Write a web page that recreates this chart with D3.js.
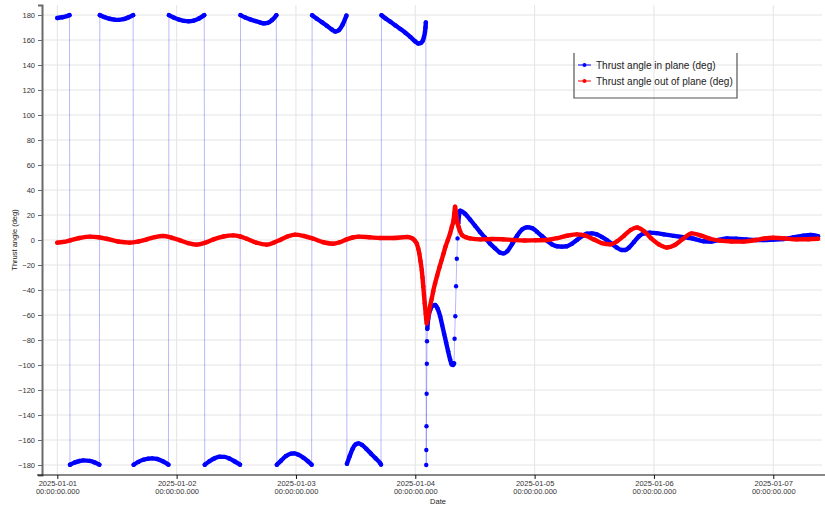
<!DOCTYPE html>
<html>
<head>
<meta charset="utf-8">
<script src="https://cdn.jsdelivr.net/npm/d3@7"></script>
<style>
  html, body { margin: 0; padding: 0; background: #fff; }
  svg { display: block; font-family: "Liberation Sans", Arial, sans-serif; }
  .grid line { stroke: #e4e4e4; stroke-width: 1; }
  .axis text { fill: #333; font-size: 7.5px; }
  .y-axis .domain { stroke: #6a6a6a; stroke-width: 2; }
  .y-axis .tick line { stroke: #6a6a6a; }
  .x-axis .domain { stroke: #111; stroke-width: 1.2; }
  .x-axis .tick line { stroke: #111; }
  .axis-title { fill: #222; font-size: 7.5px; }
  .legend text { fill: #222; font-size: 10px; }
</style>
</head>
<body>
<svg id="chart" width="825" height="505"></svg>
<script>
(function () {
  "use strict";

  // hours after 2025-01-01 00:00 UTC, angle in degrees
  const inPlane = [
    [0, 177.6], [1, 178.2], [2, 179.2], [2.45, 179.9],
    [2.55, -179.8], [3.5, -178], [4.5, -176.8], [5.2, -176.3], [6.5, -176.7], [7.5, -177.9], [8.45, -179.7],
    [8.55, 179.9], [9.5, 178.3], [10.5, 177], [11.5, 176.3], [12.3, 176.1], [13.3, 176.7], [14.3, 178.1], [15.25, 179.9],
    [15.35, -179.8], [16.3, -177.5], [17.3, -175.8], [18.3, -174.9], [19.1, -174.7], [20.1, -175.2], [21.2, -177], [22.35, -179.7],
    [22.45, 179.9], [23.5, 177.8], [24.5, 176.3], [25.5, 175.3], [26.4, 175], [27.4, 175.5], [28.5, 177.2], [29.55, 179.9],
    [29.65, -179.8], [30.6, -177], [31.6, -174.7], [32.6, -173.4], [33.6, -173.5], [34.6, -174.8], [35.7, -177.2], [36.75, -179.7],
    [36.85, 179.9], [37.8, 178], [38.8, 176.5], [39.8, 175.2], [40.8, 174], [41.5, 173.3], [42.3, 173.7], [43.2, 176], [44.05, 179.8],
    [44.15, -179.8], [45, -176.5], [46, -172.8], [47, -170.9], [47.6, -170.7], [48.5, -171.8], [49.5, -174.2], [50.4, -177], [51.15, -179.7],
    [51.25, 179.8], [52.2, 177], [53.2, 174.3], [54.2, 171.4], [55.2, 168.5], [55.9, 166.8], [56.6, 167.8], [57.4, 172.5], [58.15, 179.5],
    [58.25, -179], [58.8, -173], [59.4, -167], [60, -163.5], [60.6, -162.7], [61.3, -164], [62.2, -167.3], [63.1, -171], [64, -174.6], [64.9, -178.3], [65.1, -179.6],
    [65.2, 179.8], [66, 177.3], [67, 174.6], [68, 171.7], [69, 168.8], [70, 165.8], [71, 162.5], [72, 158.8], [72.6, 157.2], [73.1, 157.6], [73.5, 159.5], [73.75, 162.5], [73.95, 166.5], [74.05, 170], [74.12, 174],
    [74.2, -180], [74.22, -168], [74.25, -149], [74.28, -123], [74.32, -99], [74.36, -81], [74.42, -71],
    [74.6, -63], [75, -56], [75.5, -52.5], [76, -52], [76.5, -55], [77, -61], [77.4, -68], [77.8, -75], [78.2, -82], [78.6, -89], [79, -95.5], [79.3, -99.5], [79.6, -100], [79.8, -98.7],
    [79.9, -79], [80.05, -61], [80.2, -37], [80.35, -15], [80.5, 1.3], [80.65, 13.6], [80.8, 20], [81, 23.5],
    [82, 21], [83, 16.5], [84, 11.5], [85, 6.5], [86, 2], [87, -2.7], [88, -6.5], [89, -10], [89.7, -10.7], [90.5, -9],
    [91.5, -3], [92.5, 3.5], [93.5, 8.5], [94.5, 10.2], [95.5, 9.5], [96.5, 6.5], [97.5, 3], [98.5, -0.5], [99.5, -3.5], [100.5, -5],
    [101.5, -5.3], [102.5, -5], [103.5, -3], [104.5, 0], [105.5, 3], [106.5, 5], [107.5, 5.3], [108.5, 4.5], [109.5, 2.5], [110.5, 0],
    [111.5, -3], [112.5, -6], [113.5, -8], [114.2, -8], [115, -6], [116, -1.5], [117, 3], [118, 5.3], [119.2, 5.9], [120.5, 5.5],
    [122, 4.5], [124, 3.3], [126, 2.3], [128, 1], [130, -1], [131.5, -1.3], [133, 0], [134.7, 1.3], [136.5, 1], [138.5, 0.5],
    [140.5, 0], [142, 0], [144, 0.3], [146, 0.7], [148, 2], [150, 3.5], [151.5, 4], [153, 3]
  ];

  const outOfPlane = [
    [0, -2.1], [1.3, -1.5], [2.6, -0.3], [4.5, 1.6], [6.6, 2.7], [8.3, 2.2], [9.9, 1], [12.2, -1.2], [14.6, -2.1],
    [16.3, -1.2], [18, 0.5], [19.6, 2.3], [21.3, 3.2], [23, 1.8], [24.7, -0.3], [26.3, -2.5], [28, -3.7],
    [29.7, -2.2], [31.4, 0.5], [33.4, 2.8], [35.4, 3.7], [36.8, 2.8], [38.1, 1], [40.1, -2.2], [42.1, -3.7],
    [43.5, -2.2], [44.8, 0], [46.3, 2.8], [47.8, 4.3], [49.6, 3.2], [51.5, 1], [53.5, -1.8], [55.5, -3],
    [56.8, -1.8], [58.2, 0.5], [59.4, 2], [60.6, 2.7], [62.8, 2.2], [64.9, 1.6], [67.6, 1.6], [70.3, 2.4],
    [71.3, 1.5], [71.9, -0.5], [72.3, -3], [72.6, -7], [72.8, -10.7], [73.05, -17], [73.3, -24], [73.45, -30],
    [73.6, -37], [73.75, -44], [73.9, -50.7], [74.1, -59], [74.3, -66.7], [74.5, -63], [74.75, -58], [74.97, -53],
    [75.3, -47], [75.6, -41], [75.98, -34.7], [76.4, -28.5], [76.85, -22], [77.3, -16], [77.7, -10.5], [78.1, -5],
    [78.55, 0], [79, 5.3], [79.35, 10.5], [79.7, 16], [79.85, 21], [80, 26.7], [80.2, 21], [80.45, 14],
    [80.7, 10.7], [81, 7], [81.4, 4], [82.2, 2.2], [83, 1.3], [85.1, 0.5], [87.5, 0.8], [89.6, 0.6], [91.7, 0],
    [94, -0.4], [96.2, -0.2], [98.5, 0], [100.5, 1.5], [102.5, 3.4], [104.5, 4.5], [106.2, 3.5], [107.9, 0.5],
    [109.5, -2.5], [111.2, -3.5], [112.6, -1], [114, 3.5], [115.3, 8], [116.6, 10], [118, 7], [119.4, 1.5],
    [121, -3.5], [122.6, -6], [124.2, -4], [125.8, 0.8], [127.6, 5.3], [129.5, 3.5], [131.3, 1], [133.3, -0.5],
    [135.6, -1.2], [138, -1.3], [140.5, 0], [142.2, 1.2], [144, 1.8], [146.3, 1.3], [148.7, 0.5], [151, 0.6], [153, 1]
  ];

  const dayTicks = ["2025-01-01", "2025-01-02", "2025-01-03", "2025-01-04", "2025-01-05", "2025-01-06", "2025-01-07"];
  const yTicks = d3.range(-180, 181, 20);
  const legendLabels = ["Thrust angle in plane (deg)", "Thrust angle out of plane (deg)"];
  const seriesColors = ["#0000ff", "#ff0000"];

  const t0 = Date.UTC(2025, 0, 1);
  const toDate = (h) => new Date(t0 + h * 3600e3);

  const left = 42, right = 822, top = 5, bottom = 475;
  const svg = d3.select("#chart");

  const x = d3.scaleUtc()
    .domain([toDate(-3.08), toDate(153.8)])
    .range([left, right]);
  const y = d3.scaleLinear().domain([-188, 188]).range([bottom, top]);

  const tickDates = dayTicks.map((d) => new Date(d + "T00:00:00Z"));

  // grid
  const grid = svg.append("g").attr("class", "grid");
  grid.selectAll("line.h").data(yTicks).join("line")
    .attr("class", "h")
    .attr("x1", left).attr("x2", right)
    .attr("y1", (d) => y(d)).attr("y2", (d) => y(d));
  grid.selectAll("line.v").data(tickDates).join("line")
    .attr("class", "v")
    .attr("x1", (d) => x(d)).attr("x2", (d) => x(d))
    .attr("y1", top).attr("y2", bottom);

  // axes
  svg.append("g")
    .attr("class", "axis y-axis")
    .attr("transform", `translate(${left},0)`)
    .call(d3.axisLeft(y).tickValues(yTicks).tickSize(4).tickSizeOuter(4).tickPadding(3));

  const xAxis = svg.append("g")
    .attr("class", "axis x-axis")
    .attr("transform", `translate(0,${bottom})`)
    .call(d3.axisBottom(x).tickValues(tickDates).tickSize(4).tickSizeOuter(0).tickFormat(""));
  xAxis.select(".domain").attr("d", `M37,0H825`);
  xAxis.selectAll(".tick").each(function (d) {
    const t = d3.select(this).append("text").attr("fill", "#333").attr("text-anchor", "middle");
    t.append("tspan").attr("x", 0).attr("y", 11).text(d3.utcFormat("%Y-%m-%d")(d));
    t.append("tspan").attr("x", 0).attr("y", 19).text("00:00:00.000");
  });

  svg.append("text")
    .attr("class", "axis-title")
    .attr("x", 438).attr("y", 504)
    .attr("text-anchor", "middle")
    .text("Date");
  svg.append("text")
    .attr("class", "axis-title")
    .attr("transform", "translate(17,240) rotate(-90)")
    .attr("text-anchor", "middle")
    .text("Thrust angle (deg)");

  svg.append("clipPath").attr("id", "plot-clip")
    .append("rect").attr("x", left).attr("y", top).attr("width", right - left).attr("height", bottom - top);

  const plot = svg.append("g").attr("clip-path", "url(#plot-clip)");

  const thinLine = d3.line().x((d) => x(toDate(d[0]))).y((d) => y(d[1]));
  const thickLine = d3.line().curve(d3.curveMonotoneX).x((d) => x(toDate(d[0]))).y((d) => y(d[1]));

  // split a series where the angle jumps (wrap-around or sparse samples)
  function runs(data) {
    const out = [];
    let cur = [data[0]];
    for (let i = 1; i < data.length; i++) {
      if (Math.abs(data[i][1] - data[i - 1][1]) > 9) {
        out.push(cur);
        cur = [];
      }
      cur.push(data[i]);
    }
    out.push(cur);
    return out.filter((r) => r.length > 1);
  }

  function drawSeries(data, color) {
    const g = plot.append("g");
    g.append("path")
      .datum(data)
      .attr("fill", "none")
      .attr("stroke", color)
      .attr("stroke-opacity", 0.28)
      .attr("stroke-width", 1)
      .attr("d", thinLine);
    g.selectAll("path.trace").data(runs(data)).join("path")
      .attr("class", "trace")
      .attr("fill", "none")
      .attr("stroke", color)
      .attr("stroke-width", 4.4)
      .attr("stroke-linecap", "round")
      .attr("stroke-linejoin", "round")
      .attr("d", thickLine);
    g.selectAll("circle").data(data).join("circle")
      .attr("cx", (d) => x(toDate(d[0])))
      .attr("cy", (d) => y(d[1]))
      .attr("r", 2.2)
      .attr("fill", color);
  }

  drawSeries(inPlane, seriesColors[0]);
  drawSeries(outOfPlane, seriesColors[1]);

  // legend
  const legend = svg.append("g").attr("class", "legend");
  legend.append("path")
    .attr("d", "M574,53V98H737V53")
    .attr("fill", "none")
    .attr("stroke", "#555")
    .attr("stroke-width", 1.2);
  legendLabels.forEach((label, i) => {
    const ly = 65 + i * 16;
    legend.append("line")
      .attr("x1", 578).attr("x2", 591).attr("y1", ly).attr("y2", ly)
      .attr("stroke", seriesColors[i]).attr("stroke-width", 1);
    legend.append("circle")
      .attr("cx", 584.5).attr("cy", ly).attr("r", 2)
      .attr("fill", seriesColors[i]);
    legend.append("text")
      .attr("x", 596).attr("y", ly + 3.5)
      .text(label);
  });
})();
</script>
</body>
</html>
